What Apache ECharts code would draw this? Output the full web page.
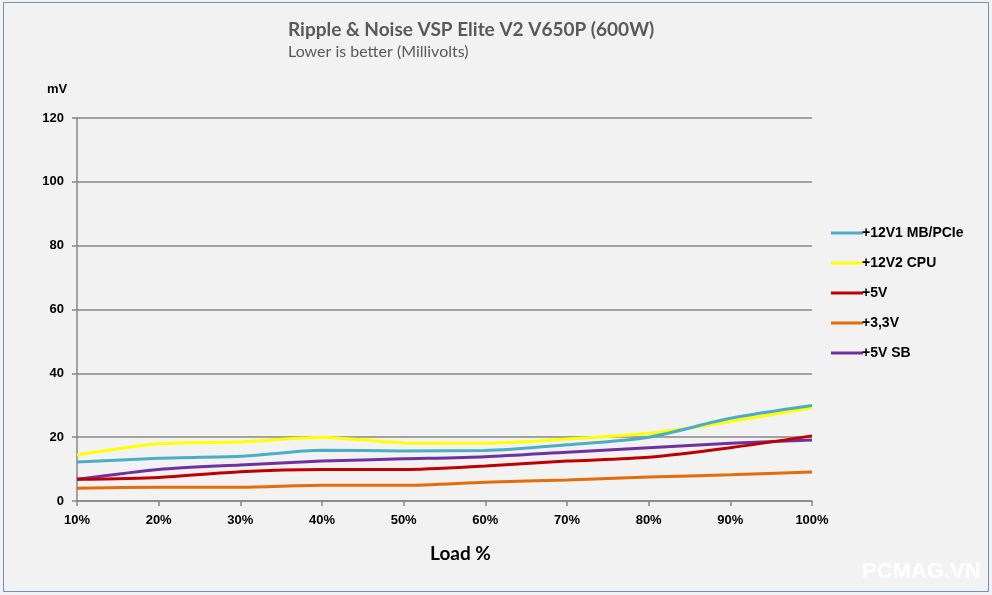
<!DOCTYPE html>
<html>
<head>
<meta charset="utf-8">
<script src="https://cdn.jsdelivr.net/npm/echarts@6/dist/echarts.min.js"></script>
<style>
html,body{margin:0;padding:0;background:#f2f2f2;}
#c{width:992px;height:595px;}
</style>
</head>
<body>
<div id="c"></div>
<script>
const categories = ['10%','20%','30%','40%','50%','60%','70%','80%','90%','100%'];
const v12v1 = [12.2,13.4,14.0,15.9,15.7,15.8,17.6,20.0,25.9,29.9];
const v12v2 = [14.4,17.9,18.5,20.0,18.2,18.1,19.4,21.2,24.9,29.2];
const v5 = [6.8,7.4,9.2,9.9,9.9,11.0,12.5,13.7,16.7,20.4];
const v33 = [4.0,4.3,4.3,4.9,4.9,5.9,6.6,7.5,8.2,9.1];
const v5sb = [6.8,9.9,11.3,12.5,13.2,13.9,15.3,16.7,18.1,19.1];
const seriesNames = ['+12V1 MB/PCIe','+12V2 CPU','+5V','+3,3V','+5V SB'];
const colors = ['#4bacc6','#ffff00','#c00000','#e46c0a','#7030a0'];
const data = [v12v1, v12v2, v5, v33, v5sb];

const chart = echarts.init(document.getElementById('c'));
chart.setOption({
  backgroundColor: '#f2f2f2',
  animation: false,
  graphic: [
    {type:'rect', shape:{x:3.5,y:2.5,width:985,height:589}, style:{fill:'none', stroke:'#6d90c0', lineWidth:1}, silent:true},
    {type:'text', left:288, top:20, style:{text:'Ripple & Noise VSP Elite V2 V650P (600W)', font:'bold 19px Lato, "Open Sans", sans-serif', fill:'#595959'}},
    {type:'text', left:288, top:44, style:{text:'Lower is better (Millivolts)', font:'16px Lato, "Open Sans", sans-serif', fill:'#595959'}},
    {type:'text', left:47, top:83, style:{text:'mV', font:'bold 13px Arial, "Liberation Sans", sans-serif', fill:'#000'}},
    {type:'text', left:430, top:544, style:{text:'Load %', font:'bold 19px Lato, "Open Sans", sans-serif', fill:'#000'}},
    {type:'text', left:862, top:561, style:{text:'PCMAG.VN', font:'bold 22px Arial, "Liberation Sans", sans-serif', fill:'#ffffff'}}
  ],
  legend: {
    orient: 'vertical',
    left: 826,
    top: 220,
    itemGap: 14,
    itemWidth: 32,
    itemHeight: 3,
    icon: 'rect',
    textStyle: {fontFamily:'Arial, "Liberation Sans", sans-serif', fontWeight:'bold', fontSize:14, color:'#000', padding:[0,0,0,-6], lineHeight:16},
    data: seriesNames
  },
  grid: {left:77, right:180, top:118, bottom:94, containLabel:false},
  xAxis: {
    type:'category',
    data: categories,
    boundaryGap:false,
    axisLine:{lineStyle:{color:'#868686', width:1.5}},
    axisTick:{show:true, length:5, lineStyle:{color:'#868686', width:1.5}},
    axisLabel:{color:'#000', fontFamily:'Arial, "Liberation Sans", sans-serif', fontWeight:'bold', fontSize:13, margin:13},
    splitLine:{show:false}
  },
  yAxis: {
    type:'value',
    min:0, max:120, interval:20,
    axisLine:{show:true, lineStyle:{color:'#868686', width:1.5}},
    axisTick:{show:true, length:5, lineStyle:{color:'#868686', width:1.5}},
    axisLabel:{color:'#000', fontFamily:'Arial, "Liberation Sans", sans-serif', fontWeight:'bold', fontSize:13, margin:13},
    splitLine:{show:true, lineStyle:{color:'#868686', width:1.5}}
  },
  series: seriesNames.map((n,i)=>({
    name:n, type:'line', data:data[i], symbol:'none', smooth:0.25,
    lineStyle:{color:colors[i], width:3}, itemStyle:{color:colors[i]}, z: 10 - i
  }))
});
</script>
</body>
</html>
